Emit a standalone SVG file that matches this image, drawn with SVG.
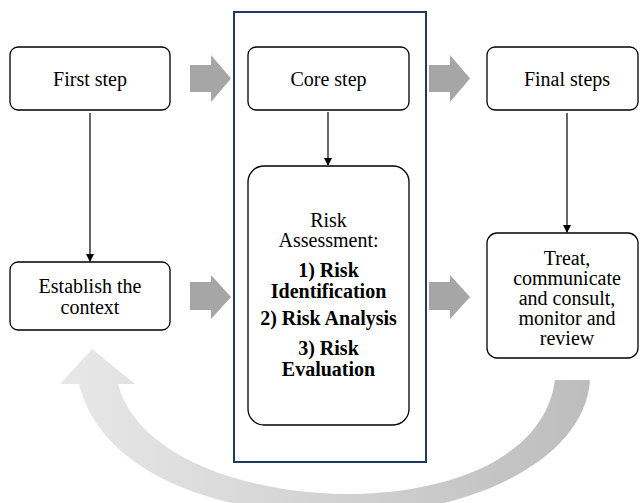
<svg xmlns="http://www.w3.org/2000/svg" width="640" height="503" viewBox="0 0 640 503">
<style>
.box{fill:#fff;stroke:#000;stroke-width:1.3}
text{font-family:'Liberation Serif','Tinos','Noto Serif','DejaVu Serif','Times New Roman',Times,serif;font-size:20px;fill:#000;text-anchor:middle}
.b{font-weight:bold}
.blk{fill:#a6a6a6}
.ln{stroke:#000;stroke-width:1.2;fill:none;marker-end:url(#ah)}
</style>
<defs>
<marker id="ah" viewBox="0 0 8 8" refX="7" refY="4" markerWidth="8" markerHeight="8" markerUnits="userSpaceOnUse" orient="auto">
<path d="M0,0 L8,4 L0,8 Z" fill="#000"/>
</marker>
<linearGradient id="cg" x1="590" y1="0" x2="60" y2="0" gradientUnits="userSpaceOnUse">
<stop offset="0" stop-color="#bdbdbd"/>
<stop offset="1" stop-color="#e8e8e8"/>
</linearGradient>
</defs>
<rect width="640" height="503" fill="#fff"/>
<g id="frame"><rect x="234" y="12" width="192" height="450" fill="none" stroke="#1f3864" stroke-width="2"/></g>
<g id="loop"><path d="M79,384 L60,384 L92,349 L135,384 L118,384 C135,450 230,492 345,494 C455,494 545,455 555,380 L590,380 C585,460 470,515 345,515 C210,515 100,470 79,384 Z" fill="url(#cg)"/></g>
<g id="connectors">
<path class="ln" d="M90,113 V261"/>
<path class="ln" d="M328,112 V165"/>
<path class="ln" d="M567,113 V232"/>
<path class="blk" d="M190,65 H211 V55 L231,78.5 L211,102 V92 H190 Z"/>
<path class="blk" d="M429,65 H450 V55 L470,78.5 L450,102 V92 H429 Z"/>
<path class="blk" d="M190,282 H211 V275 L231,297 L211,319 V310 H190 Z"/>
<path class="blk" d="M429,282 H450 V275 L470,297 L450,319 V310 H429 Z"/>
</g>
<g id="first"><rect class="box" x="10" y="47" width="160" height="63" rx="8"/><text x="90" y="86">First step</text></g>
<g id="core"><rect class="box" x="248" y="47" width="161" height="63" rx="8"/><text x="328.5" y="86">Core step</text></g>
<g id="final"><rect class="box" x="487" y="47" width="151" height="63" rx="8"/><text x="567" y="86">Final steps</text></g>
<g id="establish"><rect class="box" x="10" y="262" width="160" height="68" rx="8"/><text x="90" y="293">Establish the</text><text x="90" y="313.5">context</text></g>
<g id="risk"><rect class="box" x="248" y="166" width="161" height="259" rx="16"/>
<text x="328.5" y="227">Risk</text>
<text x="328.5" y="247">Assessment:</text>
<text class="b" x="328.5" y="277">1) Risk</text>
<text class="b" x="328.5" y="297.5">Identification</text>
<text class="b" x="328.5" y="325">2) Risk Analysis</text>
<text class="b" x="328.5" y="355">3) Risk</text>
<text class="b" x="328.5" y="375.5">Evaluation</text>
</g>
<g id="treat"><rect class="box" x="487" y="233" width="151" height="125" rx="10"/>
<text x="567" y="265">Treat,</text>
<text x="567" y="285">communicate</text>
<text x="567" y="305">and consult,</text>
<text x="567" y="325">monitor and</text>
<text x="567" y="345">review</text>
</g>
</svg>
